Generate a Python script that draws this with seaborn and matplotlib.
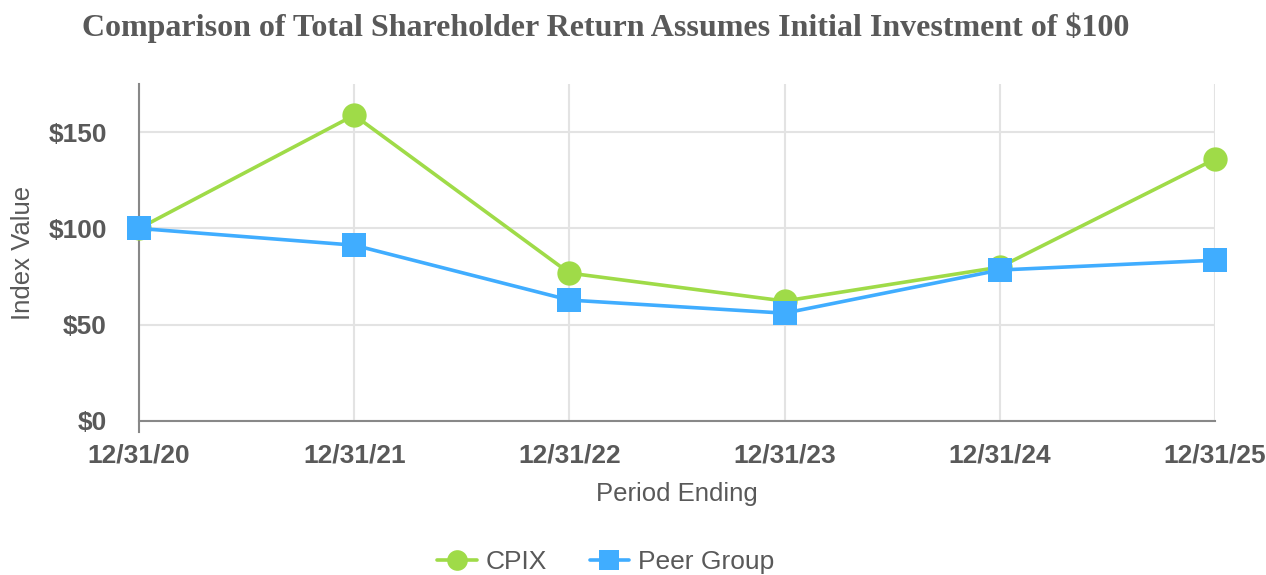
import numpy as np
import pandas as pd
import seaborn as sns
import matplotlib.pyplot as plt
from matplotlib.ticker import FuncFormatter

periods = ['12/31/20', '12/31/21', '12/31/22', '12/31/23', '12/31/24', '12/31/25']
cpix = [100, 158.8, 76.8, 62.3, 79.9, 136.0]
peer_group = [100, 91.3, 62.8, 56.0, 78.4, 83.5]

green = '#9FDB48'
blue = '#40ADFF'
grey = '#595959'

sns.set_theme(style='white')
plt.rcParams['font.family'] = ['Liberation Sans', 'DejaVu Sans']

df = pd.DataFrame({'period': periods, 'CPIX': cpix, 'Peer Group': peer_group})
df['x'] = np.arange(len(periods))

fig = plt.figure(figsize=(12.66, 5.75), dpi=100)
ax = fig.add_axes([139 / 1266, 1 - 421 / 575, (1215 - 139) / 1266, (421 - 84) / 575])

sns.lineplot(data=df, x='x', y='CPIX', color=green, lw=2.6, marker='o', markersize=17.5,
             markeredgewidth=0, label='CPIX', ax=ax, zorder=3, clip_on=False)
sns.lineplot(data=df, x='x', y='Peer Group', color=blue, lw=2.6, marker='s', markersize=17.5,
             markeredgewidth=0, label='Peer Group', ax=ax, zorder=4, clip_on=False)

ax.set_xlim(0, len(periods) - 1)
ax.set_ylim(0, 175)
ax.set_xticks(df['x'])
ax.set_xticklabels(periods)
ax.set_yticks([0, 50, 100, 150])
ax.yaxis.set_major_formatter(FuncFormatter(lambda v, p: '${:.0f}'.format(v)))
for lab in ax.get_xticklabels() + ax.get_yticklabels():
    lab.set_fontweight('bold')
    lab.set_fontsize(19)
    lab.set_color(grey)

ax.grid(True, color='#e3e3e3', lw=1.5)
ax.set_axisbelow(True)
for s in ['top', 'right']:
    ax.spines[s].set_visible(False)
for s in ['left', 'bottom']:
    ax.spines[s].set_color('#888888')
    ax.spines[s].set_linewidth(1.5)
ax.tick_params(axis='both', which='major', length=8, width=1.5, color='#888888')
ax.tick_params(axis='y', pad=15)
ax.tick_params(axis='x', pad=8)
ax.spines['left'].set_bounds(-5.7, 175)

ax.set_xlabel('Period Ending', fontsize=18.5, color=grey)
ax.set_ylabel('Index Value', fontsize=18.5, color=grey)
ax.xaxis.set_label_coords(0.5, -0.182)
ax.yaxis.set_label_coords(-0.097, 0.5)

fig.text(606 / 1266, 1 - 28 / 575,
         'Comparison of Total Shareholder Return Assumes Initial Investment of $100',
         ha='center', va='center', fontsize=23, fontweight='bold', color=grey,
         family='Liberation Serif')

leg = ax.legend(loc='center', bbox_to_anchor=(606 / 1266, 1 - 562 / 575),
                bbox_transform=fig.transFigure, ncol=2, frameon=False,
                fontsize=19, handlelength=1.5, handletextpad=0.35,
                columnspacing=1.6, markerscale=0.85)
for t in leg.get_texts():
    t.set_color(grey)

fig.savefig('out.png', dpi=100)
